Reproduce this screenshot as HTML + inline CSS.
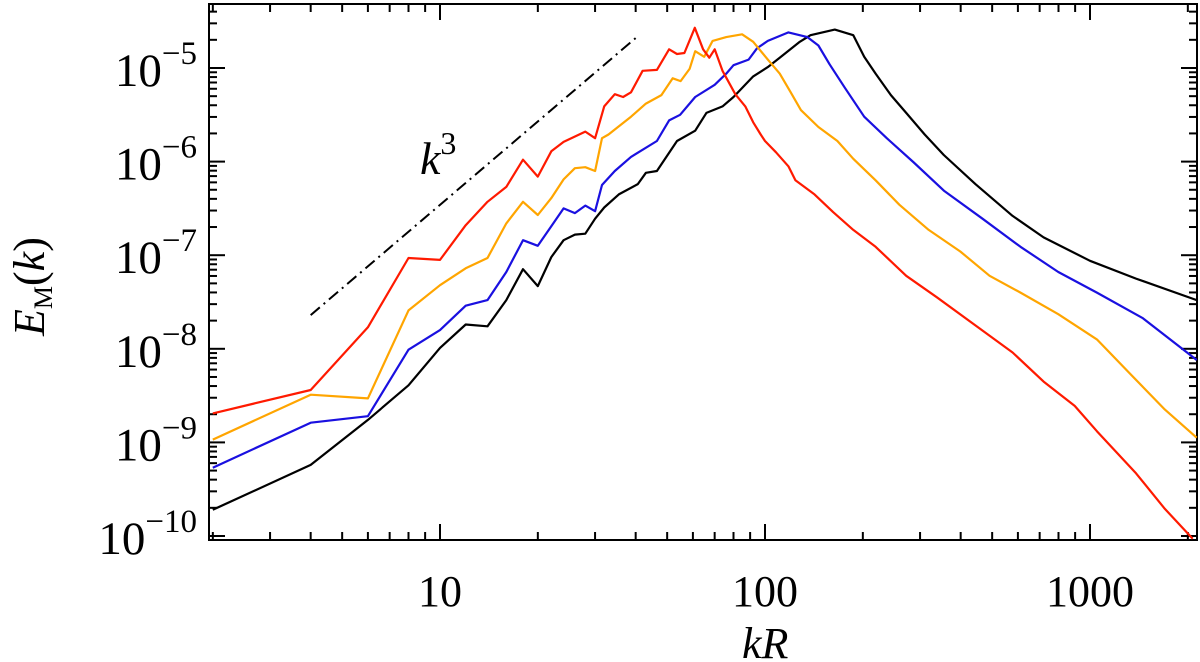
<!DOCTYPE html>
<html><head><meta charset="utf-8"><style>
html,body{margin:0;padding:0;background:#fff;}
svg{display:block;font-family:"Liberation Serif",serif;}
</style></head><body>
<svg id="chart" width="1200" height="662" viewBox="0 0 1200 662" xmlns="http://www.w3.org/2000/svg">
<rect x="209" y="4" width="988" height="536" fill="none" stroke="#000" stroke-width="2"/>
<g id="ticks"></g>
<g id="series"></g>
<line id="slope" stroke="#000" stroke-width="2" stroke-dasharray="12,5,2,5"/>
<text x="420" y="174" font-size="46" font-style="italic">k<tspan dy="-20" font-size="32" font-style="normal">3</tspan></text>
<text x="742" y="658" font-size="44" font-style="italic">kR</text>
<text transform="translate(44,336) rotate(-90)" font-size="44"><tspan font-style="italic">E</tspan><tspan dy="8" font-size="26">M</tspan><tspan dy="-8">(</tspan><tspan font-style="italic">k</tspan><tspan>)</tspan></text>
</svg>
<script>
const xTickVals = [10, 100, 1000];
const xTickLabels = ["10", "100", "1000"];
const yTickExps = [-5, -6, -7, -8, -9, -10];
const kRed = [2,4,6,8,10,12,14,16,18,20,22,24,28,30,32,34.5,36.6,38.7,42,46.5,50.7,53.6,56.5,60.8,64.5,67.4,70,74,81,87,92,97,100,108,118,124,142,162,187,219,272,338,444,578,720,897,1050,1385,1700,2070];
const logRed = [-8.69,-8.44,-7.77,-7.03,-7.05,-6.68,-6.43,-6.27,-5.98,-6.16,-5.89,-5.79,-5.68,-5.75,-5.41,-5.28,-5.31,-5.26,-5.03,-5.02,-4.80,-4.85,-4.84,-4.57,-4.80,-4.89,-4.80,-5.03,-5.28,-5.41,-5.58,-5.71,-5.78,-5.90,-6.05,-6.20,-6.35,-6.54,-6.73,-6.91,-7.22,-7.45,-7.75,-8.04,-8.35,-8.61,-8.88,-9.33,-9.71,-10.03];
const kOrange = [2,4,6,8,10,12,14,16,18,20,22,24,26,28,30,31.5,33,38.7,43,48,52,55,58.6,61,65,69,76,85,92,102,111,120,129,146,167,187,219,259,319,399,491,611,799,1050,1340,1700,2130];
const logOrange = [-8.97,-8.49,-8.53,-7.59,-7.32,-7.14,-7.03,-6.66,-6.43,-6.57,-6.39,-6.19,-6.07,-6.06,-6.10,-5.75,-5.71,-5.52,-5.38,-5.29,-5.11,-5.14,-5.01,-4.82,-4.88,-4.71,-4.67,-4.64,-4.72,-4.91,-5.06,-5.26,-5.45,-5.63,-5.78,-5.97,-6.20,-6.46,-6.73,-6.96,-7.22,-7.40,-7.63,-7.90,-8.28,-8.65,-8.95];
const kBlue = [2,4,6,8,10,12,14,16,18,20,22,24,26,28,30,31.5,34.5,38.7,46.5,50.7,54.8,61,70,76,80,89,94.5,102,118,135,146,158,176,202,237,287,355,467,611,799,1050,1450,2130];
const logBlue = [-9.27,-8.79,-8.72,-8.01,-7.80,-7.54,-7.48,-7.18,-6.84,-6.90,-6.69,-6.50,-6.55,-6.47,-6.53,-6.25,-6.10,-5.95,-5.78,-5.56,-5.50,-5.31,-5.18,-5.06,-4.97,-4.91,-4.79,-4.71,-4.62,-4.67,-4.76,-4.96,-5.21,-5.52,-5.75,-6.01,-6.31,-6.61,-6.91,-7.18,-7.40,-7.67,-8.12];
const kBlack = [2,4,6,8,10,12,14,16,18,20,22,24,26,28,30,32,35.5,40.6,43,46.5,53.6,61,66,74,80,92,102,111,128,138,164,187,202,219,244,272,310,355,444,578,720,1000,1385,2130];
const logBlack = [-9.72,-9.24,-8.76,-8.39,-7.99,-7.74,-7.76,-7.48,-7.15,-7.33,-7.02,-6.84,-6.78,-6.77,-6.61,-6.49,-6.35,-6.24,-6.12,-6.10,-5.78,-5.67,-5.48,-5.41,-5.31,-5.09,-4.99,-4.89,-4.72,-4.65,-4.59,-4.65,-4.88,-5.06,-5.29,-5.48,-5.71,-5.93,-6.24,-6.58,-6.81,-7.06,-7.25,-7.48];
const slopeK = [4, 40];
const slopeLog = [-7.64, -4.68];

const NS = "http://www.w3.org/2000/svg";
const L=209,R=1197,T=4,B=540;
function xs(k){return 440+325*(Math.log10(k)-1);}
function ys(lg){return 68-(lg+5)*93.6;}
function mk(tag,attrs,parent){const e=document.createElementNS(NS,tag);for(const a in attrs)e.setAttribute(a,attrs[a]);parent.appendChild(e);return e;}
const tg=document.getElementById('ticks');
for(let d=1;d<=1000;d*=10){for(let m=1;m<10;m++){const v=d*m;const x=xs(v);if(x<L+1||x>R-1)continue;const len=m===1?16:8;
 const t1=mk('line',{x1:x,x2:x,y1:B,y2:B-len,stroke:'#000','stroke-width':2},tg);
 
 
 const t2=mk('line',{x1:x,x2:x,y1:T,y2:T+len,stroke:'#000','stroke-width':2},tg);
 
 }}
xTickVals.forEach((v,i)=>{const t=mk('text',{x:xs(v),y:606,'font-size':44,'text-anchor':'middle'},tg);t.textContent=xTickLabels[i];
 
 });
for(let e=-11;e<=-5;e++){for(let m=1;m<10;m++){const y=ys(e+Math.log10(m));if(y<T+1||y>B-1)continue;const len=m===1?16:8;
 const t1=mk('line',{x1:L,x2:L+len,y1:y,y2:y,stroke:'#000','stroke-width':2},tg);
 
 
 const t2=mk('line',{x1:R,x2:R-len,y1:y,y2:y,stroke:'#000','stroke-width':2},tg);
 
 }}
yTickExps.forEach(e=>{const y=ys(e);const t=mk('text',{x:197,y:y+18,'font-size':47,'text-anchor':'end'},tg);
 t.innerHTML='10<tspan dy="-22" font-size="33">\u2212'+(-e)+'</tspan>';
 
 });
const sg=document.getElementById('series');
function draw(ks,ls,color,name){const pts=ks.map((k,i)=>xs(k).toFixed(1)+','+ys(ls[i]).toFixed(1)).join(' ');
 const p=mk('polyline',{points:pts,fill:'none',stroke:color,'stroke-width':2.2,'stroke-linejoin':'round'},sg);
 
 }
draw(kBlack,logBlack,'#000','series-black');
draw(kBlue,logBlue,'#1a10e0','series-blue');
draw(kOrange,logOrange,'#ffa500','series-orange');
draw(kRed,logRed,'#ff1a00','series-red');
const sl=document.getElementById('slope');
sl.setAttribute('x1',xs(slopeK[0]));sl.setAttribute('y1',ys(slopeLog[0]));
sl.setAttribute('x2',xs(slopeK[1]));sl.setAttribute('y2',ys(slopeLog[1]));
</script>
</body></html>
